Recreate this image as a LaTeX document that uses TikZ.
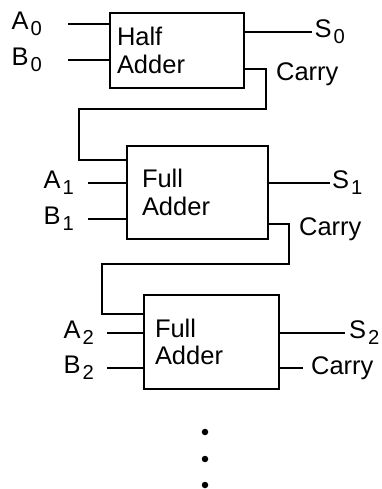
\documentclass[tikz,border=0pt]{standalone}
\usepackage{fontspec}
\setmainfont{Liberation Sans}
\usetikzlibrary{positioning}
\newcommand{\subidx}[1]{\kern0.4mm\raisebox{-1.2mm}{\fontsize{11.5}{12}\selectfont #1}}

\begin{document}
\begin{tikzpicture}[x=0.2mm,y=-0.2mm,line width=1.3pt]
  \tikzset{adder/.style={draw, rectangle, align=left, inner ysep=0pt, font=\fontsize{14.5}{15.6}\selectfont},
           port/.style={inner sep=0pt, font=\fontsize{14.5}{15.6}\selectfont}}
  \useasboundingbox (0,0) rectangle (381,489);
  % the three adders
  \node[adder, minimum width=26.8mm, minimum height=15mm, inner xsep=1.4mm, text width=24mm] (ha) at (177,50.5) {Half\\Adder};
  \node[adder, minimum width=28.2mm, minimum height=18.6mm, inner xsep=3mm, text width=22.2mm] (fa1) at (197.5,192.5) {Full\\Adder};
  \node[adder, minimum width=27mm, minimum height=18.8mm, inner xsep=2.2mm, text width=22.6mm] (fa2) at (211.5,342) {Full\\Adder};
  % wire ends
  \coordinate (a0w) at (68,24);   \coordinate (b0w) at (68,60);
  \coordinate (a1w) at (88,183);  \coordinate (b1w) at (88,219);
  \coordinate (a2w) at (107,333); \coordinate (b2w) at (107,368);
  \coordinate (s0w) at (312,32);  \coordinate (s1w) at (330,183); \coordinate (s2w) at (345,333);
  \coordinate (c0) at (266,69);   \coordinate (k0) at (266,109);  \coordinate (ci1) at (79,160);
  \coordinate (c1) at (289,224);  \coordinate (k1) at (289,264);  \coordinate (ci2) at (102,314);
  \coordinate (c2w) at (303,368);
  % signal names
  \node[port, left=5mm of a0w] (a0) {A\subidx{0}};
  \node[port, left=5mm of b0w] (b0) {B\subidx{0}};
  \node[port, left=2.6mm of a1w] (a1) {A\subidx{1}};
  \node[port, left=2.6mm of b1w] (b1) {B\subidx{1}};
  \node[port, left=2.4mm of a2w] (a2) {A\subidx{2}};
  \node[port, left=2.4mm of b2w] (b2) {B\subidx{2}};
  \node[port, right=0.3mm of s0w] (s0) {S\subidx{0}};
  \node[port, right=0.2mm of s1w] (s1) {S\subidx{1}};
  \node[port, right=0.6mm of s2w] (s2) {S\subidx{2}};
  \node[port, anchor=base west] (cy0) at (275,81) {Carry};
  \node[port, anchor=base west] (cy1) at (298,236) {Carry};
  \node[port, right=1.4mm of c2w] (cy2) {Carry};
  % wires
  \foreach \w/\b in {a0w/ha,b0w/ha,a1w/fa1,b1w/fa1,a2w/fa2,b2w/fa2}{\draw (\w) -- (\w -| \b.west);}
  \foreach \w/\b in {s0w/ha,s1w/fa1,s2w/fa2}{\draw (\b.east |- \w) -- (\w);}
  \draw (ha.east |- c0) -- (c0) -- (k0) -| (ci1) -- (ci1 -| fa1.west);
  \draw (fa1.east |- c1) -- (c1) -- (k1) -| (ci2) -- (ci2 -| fa2.west);
  \draw (fa2.east |- c2w) -- (c2w);
  % more stages follow
  \foreach \y in {432,459,485}{\fill (205,\y) circle (0.65mm);}
\end{tikzpicture}
\end{document}
